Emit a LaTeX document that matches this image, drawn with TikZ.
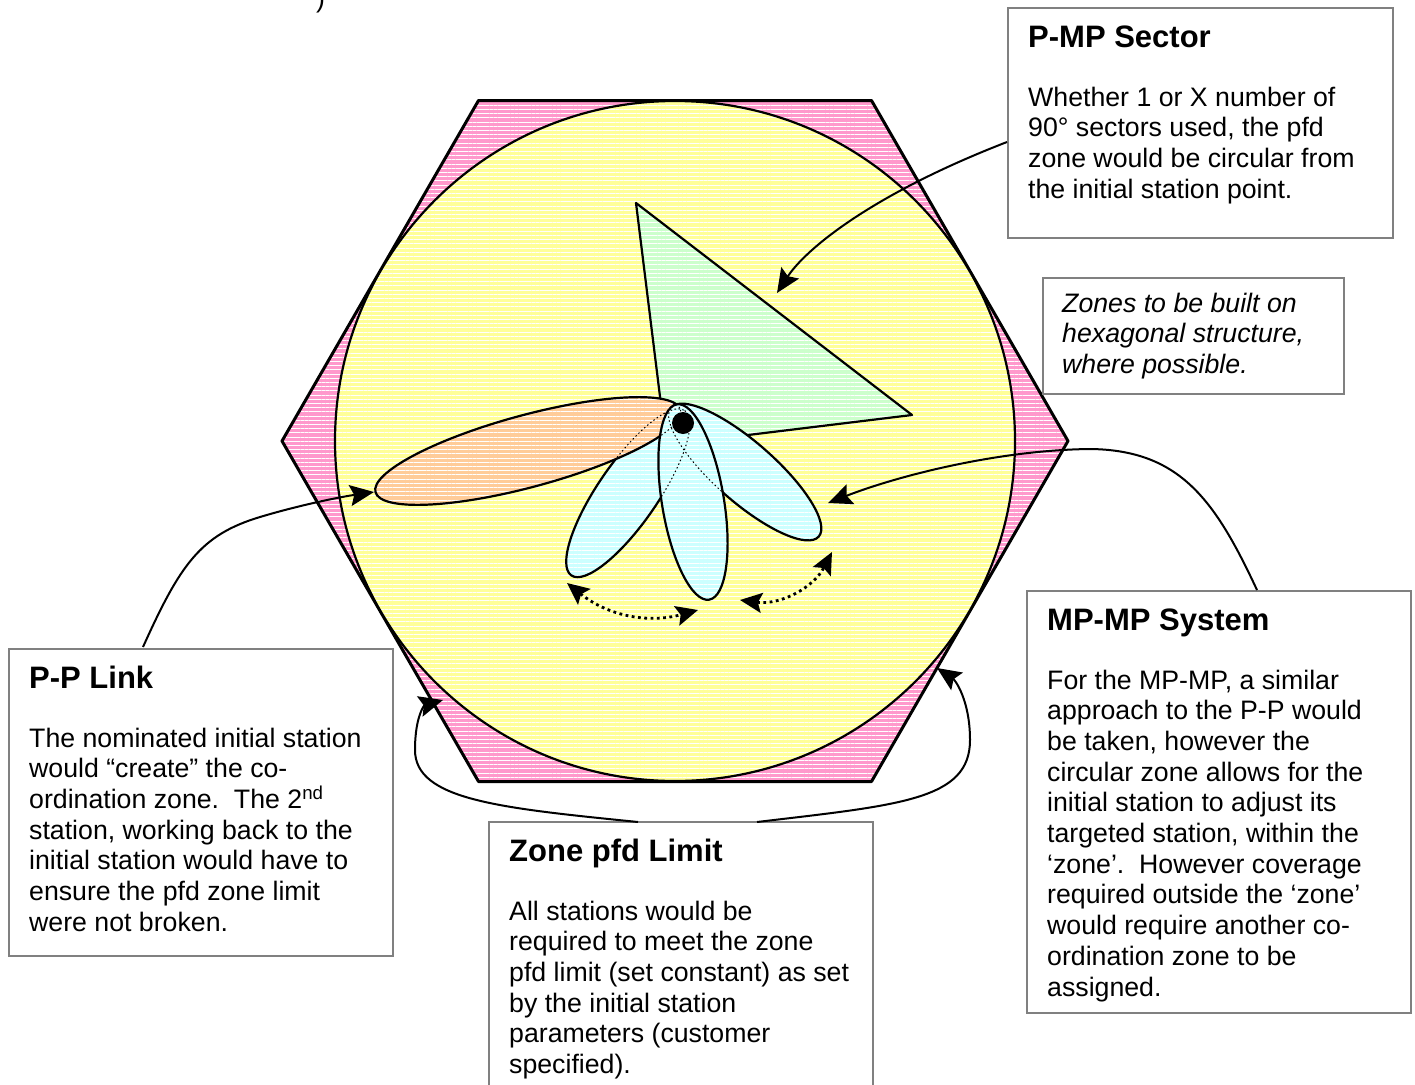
\documentclass[tikz,border=0pt]{standalone}
\usepackage{fontspec}
\setmainfont{Liberation Sans}
\usepackage{xcolor}
\definecolor{ColHex}{RGB}{255,153,204}
\definecolor{ColZone}{RGB}{255,255,153}
\definecolor{ColSector}{RGB}{204,255,204}
\definecolor{ColLink}{RGB}{255,204,153}
\definecolor{ColLobe}{RGB}{204,255,255}
\definecolor{ColBox}{RGB}{128,128,128}
\usetikzlibrary{patterns.meta}
\usetikzlibrary{arrows.meta}
\tikzstyle{Hatch}=[pattern={Lines[distance=4.2pt,line width=1pt]},
pattern color=white]
\tikzstyle{Shape}=[draw=black,line width=2.2pt,line join=round]
\tikzstyle{Hidden}=[draw=black,line width=1pt,dash pattern=on 1.5pt off 2.5pt]
\tikzstyle{Box}=[draw=ColBox,fill=white,line width=2pt,rectangle,
anchor=north west,inner sep=0pt]
\tikzstyle{Title}=[font=\fontsize{31}{36}\selectfont\bfseries,
anchor=base west,inner sep=0pt]
% multi-line text: placed by the baseline of its last line
\tikzstyle{Body}=[font=\fontsize{26.7}{30.7}\selectfont,anchor=base west,
inner sep=0pt,align=left]
\tikzstyle{Edge}=[draw=black,line width=2pt,
-{Stealth[length=24pt,width=21pt,inset=4pt]}]
\tikzstyle{Swing}=[draw=black,line width=2.8pt,dash pattern=on 2.8pt off 3.5pt,
{Stealth[length=22pt,width=20pt,inset=4pt]}-{Stealth[length=22pt,width=20pt,inset=4pt]}]

\begin{document}
\begin{tikzpicture}[x=1pt,y=-1pt]
    \useasboundingbox(0,0)rectangle(1415,1084);
    % zone
    \draw[Shape,line width=3pt,preaction={fill=ColHex},Hatch]
        (282,441)--(478.5,100.5)--(871.5,100.5)--(1068,441)
        --(871.5,781.5)--(478.5,781.5)--cycle;
    \draw[Shape,preaction={fill=ColZone},Hatch](675,441)circle[radius=340];
    % sector, link and lobes
    \draw[Shape,preaction={fill=ColSector},Hatch]
        (636,203)--(912,415)--(666,445)--cycle;
    \draw[Shape,preaction={fill=ColLobe},Hatch,rotate around={55.5:(628,493)}]
        (628,493)ellipse[x radius=100,y radius=30];
    \draw[Shape,preaction={fill=ColLink},Hatch,rotate around={15.1:(528,451)}]
        (528,451)ellipse[x radius=158,y radius=36];
    \draw[Shape,preaction={fill=ColLobe},Hatch,rotate around={138.8:(745,472)}]
        (745,472)ellipse[x radius=98,y radius=30];
    \draw[Shape,preaction={fill=ColLobe},Hatch,rotate around={99.4:(693,502)}]
        (693,502)ellipse[x radius=99,y radius=31];
    \draw[Hidden,rotate around={55.5:(628,493)}]
        (628,493)ellipse[x radius=100,y radius=30];
    \draw[Hidden,rotate around={138.8:(745,472)}]
        (745,472)ellipse[x radius=98,y radius=30];
    \draw[Hidden,rotate around={15.1:(528,451)}]
        (528,451)ellipse[x radius=158,y radius=36];
    \node[circle,fill=black,minimum size=22,inner sep=0pt](stn)at(683,423){};
    % steering
    \coordinate(swA)at(567,583);
    \coordinate(swB)at(698,610);
    \coordinate(swC)at(740,600);
    \coordinate(swD)at(832,552);
    \draw[Swing](swA)to[bend right=27](swB);
    \draw[Swing](swC)to[bend right=35](swD);
    % boxes
    \node[Body](cut)at(316,7){)};
    \node[Box,minimum width=385,minimum height=230](pmp)at(1007,7){};
    \node[Title](pmpT)at(1028,47){P-MP Sector};
    \node[Body](pmpB)at(1028,198.1){Whether 1 or X number of\\
        90° sectors used, the pfd\\zone would be circular from\\
        the initial station point.};
    \node[Box,minimum width=301,minimum height=116](hex)at(1042,277){};
    \node[Body,font=\fontsize{26.7}{30.7}\selectfont\itshape](hexB)
        at(1062,373.4){Zones to be built on\\hexagonal structure,\\
        where possible.};
    \node[Box,minimum width=384,minimum height=422](mpmp)at(1026,590){};
    \node[Title](mpmpT)at(1047,630){MP-MP System};
    \node[Body](mpmpB)at(1047,996){For the MP-MP, a similar\\
        approach to the P-P would\\be taken, however the\\
        circular zone allows for the\\initial station to adjust its\\
        targeted station, within the\\‘zone’.\ \ However coverage\\
        required outside the ‘zone’\\would require another co-\\
        ordination zone to be\\assigned.};
    \node[Box,minimum width=384,minimum height=307](pp)at(8,648){};
    \node[Title](ppT)at(29,688){P-P Link};
    \node[Body](ppB)at(29,931.2){The nominated initial station\\
        would “create” the co-\\
        ordination zone.\ \ The 2\textsuperscript{nd}\\
        station, working back to the\\initial station would have to\\
        ensure the pfd zone limit\\were not broken.};
    \node[Box,minimum width=384,minimum height=300](lim)at(488,821){};
    \node[Title](limT)at(509,861){Zone pfd Limit};
    \node[Body](limB)at(509,1073.5){All stations would be\\
        required to meet the zone\\pfd limit (set constant) as set\\
        by the initial station\\parameters (customer\\specified).};
    % callouts
    \coordinate(pmpS)at(1007,142);
    \coordinate(pmpE)at(777,293);
    \coordinate(mpmpS)at(1257,590);
    \coordinate(mpmpE)at(828,503);
    \coordinate(ppS)at(143,647);
    \coordinate(ppE)at(374,492);
    \coordinate(limS)at(638,822);
    \coordinate(limE)at(443,700);
    \coordinate(limR)at(757,822);
    \coordinate(limF)at(937,668);
    \draw[Edge](pmpS)..controls(870,195)and(805,250)..(pmpE);
    \draw[Edge](mpmpS)..controls(1215,500)and(1180,450)..(1090,449)
        ..controls(1000,450)and(900,475)..(mpmpE);
    \draw[Edge](ppS)..controls(180,565)and(200,535)..(260,517)
        ..controls(300,505)and(340,497)..(ppE);
    \draw[Edge](limS)..controls(500,808)and(415,800)..(415,750)
        ..controls(415,715)and(425,705)..(limE);
    \draw[Edge](limR)..controls(900,805)and(970,800)..(970,740)
        ..controls(970,700)and(955,680)..(limF);
\end{tikzpicture}
\end{document}
